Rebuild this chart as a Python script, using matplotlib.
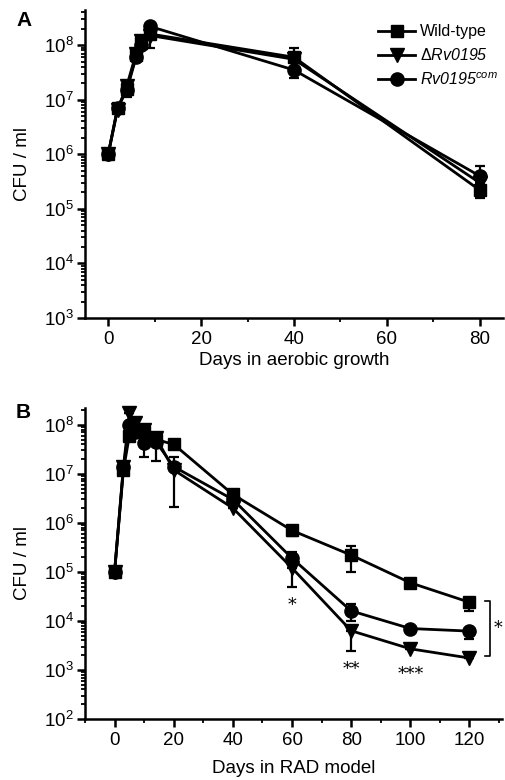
import matplotlib
matplotlib.use("Agg")
import matplotlib.pyplot as plt
import numpy as np
from matplotlib.ticker import LogLocator, NullFormatter, MultipleLocator
from matplotlib.lines import Line2D

plt.rcParams['font.family'] = ['Liberation Sans', 'DejaVu Sans']
plt.rcParams['mathtext.fontset'] = 'custom'
plt.rcParams['mathtext.rm'] = 'Liberation Sans'
plt.rcParams['mathtext.it'] = 'Liberation Sans:italic'
plt.rcParams['mathtext.sf'] = 'Liberation Sans:italic'
plt.rcParams['mathtext.bf'] = 'Liberation Sans:bold'

# ---------------- data ----------------
series_labels = ["Wild-type", r"$\Delta\mathsf{Rv0195}$", r"$\mathsf{Rv0195}^{\mathsf{com}}$"]

days_a = [0, 2, 4, 6, 7, 9, 40, 80]
wt_a = [1.0e6, 7.0e6, 1.6e7, 6.5e7, 1.1e8, 1.6e8, 6.0e7, 2.2e5]
del_a = [1.0e6, 6.5e6, 1.8e7, 7.0e7, 1.2e8, 1.5e8, 5.5e7, 3.0e5]
com_a = [1.0e6, 7.0e6, 1.5e7, 6.0e7, 1.0e8, 2.2e8, 3.5e7, 4.0e5]
wt_a_lo = [1.0e6, 7.0e6, 1.1e7, 6.5e7, 1.1e8, 9.0e7, 6.0e7, 1.6e5]
wt_a_hi = [1.0e6, 7.0e6, 1.6e7, 6.5e7, 1.1e8, 1.6e8, 9.0e7, 2.2e5]
del_a_lo = [1.0e6, 6.5e6, 1.8e7, 7.0e7, 1.2e8, 1.5e8, 5.5e7, 3.0e5]
del_a_hi = [1.0e6, 6.5e6, 1.8e7, 7.0e7, 1.2e8, 1.5e8, 5.5e7, 3.0e5]
com_a_lo = [1.0e6, 7.0e6, 1.5e7, 6.0e7, 1.0e8, 2.2e8, 2.5e7, 4.0e5]
com_a_hi = [1.0e6, 7.0e6, 1.5e7, 6.0e7, 1.0e8, 2.2e8, 3.5e7, 6.0e5]

days_b = [0, 3, 5, 7, 10, 14, 20, 40, 60, 80, 100, 120]
wt_b = [1e5, 1.2e7, 6.0e7, 8.0e7, 7.0e7, 5.0e7, 4.0e7, 3.8e6, 7.0e5, 2.2e5, 6.0e4, 2.4e4]
del_b = [1e5, 1.4e7, 1.7e8, 1.1e8, 8.0e7, 5.5e7, 1.2e7, 2.0e6, 1.2e5, 6.3e3, 2.7e3, 1.75e3]
com_b = [1e5, 1.4e7, 1.0e8, 7.0e7, 4.2e7, 4.5e7, 1.4e7, 3.0e6, 1.9e5, 1.6e4, 7.0e3, 6.2e3]
wt_b_lo = [1e5, 1.2e7, 6.0e7, 8.0e7, 7.0e7, 5.0e7, 4.0e7, 3.8e6, 5.5e5, 1.0e5, 6.0e4, 1.6e4]
wt_b_hi = [1e5, 1.2e7, 6.0e7, 8.0e7, 7.0e7, 5.0e7, 4.0e7, 3.8e6, 7.0e5, 3.4e5, 6.0e4, 3.0e4]
del_b_lo = [1e5, 1.4e7, 1.7e8, 1.1e8, 8.0e7, 5.5e7, 2.1e6, 2.0e6, 5.0e4, 2.4e3, 2.7e3, 1.75e3]
del_b_hi = [1e5, 1.4e7, 1.7e8, 1.1e8, 8.0e7, 5.5e7, 2.2e7, 2.0e6, 1.2e5, 6.3e3, 2.7e3, 1.75e3]
com_b_lo = [1e5, 1.4e7, 1.0e8, 7.0e7, 2.2e7, 1.8e7, 1.4e7, 3.0e6, 1.9e5, 1.0e4, 7.0e3, 4.2e3]
com_b_hi = [1e5, 1.4e7, 1.0e8, 7.0e7, 4.2e7, 4.5e7, 1.4e7, 3.0e6, 2.5e5, 2.2e4, 7.0e3, 6.2e3]

stars_x = [60, 80, 100]
stars_y = [2.1e4, 1.0e3, 8.0e2]
stars_txt = ["*", "**", "***"]

# ---------------- figure ----------------
W, H = 505, 780
fig = plt.figure(figsize=(W / 100, H / 100), dpi=100)

def px_axes(l, t, r, b):
    return fig.add_axes([l / W, 1 - b / H, (r - l) / W, (b - t) / H])

axA = px_axes(85, 10, 503, 318)
axB = px_axes(85, 408, 502, 719)

markers = ['s', 'v', 'o']
msizes = [8.5, 10.5, 9.5]

def style(ax, xlim, ylim, xmajor, xticks):
    ax.set_yscale('log')
    ax.set_xlim(*xlim)
    ax.set_ylim(*ylim)
    for s in ['top', 'right']:
        ax.spines[s].set_visible(False)
    for s in ['left', 'bottom']:
        ax.spines[s].set_linewidth(1.8)
    ax.set_xticks(xticks)
    ax.xaxis.set_minor_locator(MultipleLocator(xmajor / 2))
    ax.yaxis.set_major_locator(LogLocator(base=10, numticks=20))
    ax.yaxis.set_minor_locator(LogLocator(base=10, subs=np.arange(2, 10), numticks=20))
    ax.yaxis.set_minor_formatter(NullFormatter())
    ax.tick_params(which='major', direction='out', length=6, width=1.8, labelsize=13.5)
    ax.tick_params(which='minor', direction='out', length=3, width=1.3)
    ax.tick_params(axis='y', which='major', pad=2)

def draw(ax, days, vals, los, his):
    for v, lo, hi, m, ms in zip(vals, los, his, markers, msizes):
        v = np.array(v); lo = np.array(lo); hi = np.array(hi)
        yerr = np.vstack([v - lo, hi - v])
        ax.errorbar(days, v, yerr=yerr, color='black', marker=m, ms=ms, lw=2,
                    elinewidth=1.6, capsize=3.5, capthick=1.6, clip_on=False)

draw(axA, days_a, [wt_a, del_a, com_a], [wt_a_lo, del_a_lo, com_a_lo],
     [wt_a_hi, del_a_hi, com_a_hi])
style(axA, (-5, 85), (1e3, 4.4e8), 20, [0, 20, 40, 60, 80])
axA.set_xlabel("Days in aerobic growth", fontsize=13.5, labelpad=3)
axA.set_ylabel("CFU / ml", fontsize=13.5, labelpad=9)

handles = [Line2D([], [], color='black', marker=m, ms=ms, lw=2) for m, ms in zip(markers, msizes)]
axA.legend(handles, series_labels, loc='upper right', bbox_to_anchor=(1.01, 0.985),
           frameon=False, fontsize=11.5, handlelength=2.3, handletextpad=0.3,
           labelspacing=0.5, borderaxespad=0.2)

draw(axB, days_b, [wt_b, del_b, com_b], [wt_b_lo, del_b_lo, com_b_lo],
     [wt_b_hi, del_b_hi, com_b_hi])
style(axB, (-10, 131), (1e2, 2.2e8), 20, [0, 20, 40, 60, 80, 100, 120])
axB.set_xlabel("Days in RAD model", fontsize=13.5, labelpad=8)
axB.set_ylabel("CFU / ml", fontsize=13.5, labelpad=9)

for x, y, t in zip(stars_x, stars_y, stars_txt):
    axB.text(x, y, t, ha='center', va='center', fontsize=12.5, family='DejaVu Serif')

# bracket
bx, btop, bbot = 127, 2.6e4, 1.9e3
axB.plot([bx - 1.6, bx, bx, bx - 1.6], [btop, btop, bbot, bbot], color='black',
         lw=1.2, clip_on=False)
axB.text(bx + 2.8, np.sqrt(btop * bbot), "*", ha='center', va='center', fontsize=12.5,
         family='DejaVu Serif')

fig.text(16 / W, 1 - 20 / H, "A", fontsize=15, fontweight='bold', ha='left', va='center')
fig.text(16 / W, 1 - 413 / H, "B", fontsize=15, fontweight='bold', ha='left', va='center')

fig.savefig("out.png", dpi=100, facecolor='white')
